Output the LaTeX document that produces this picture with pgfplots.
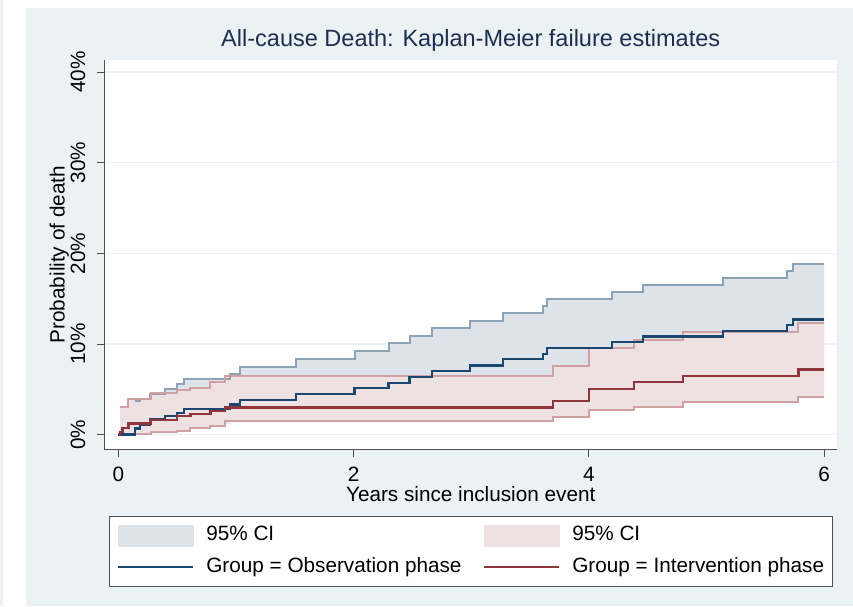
\documentclass[border=0pt]{standalone}
\usepackage{fontspec}
\setmainfont{Liberation Sans}
\usepackage{pgfplots}
\usepackage{pgfplotstable}
\pgfplotsset{compat=1.18}
\usepgfplotslibrary{fillbetween}
\definecolor{bgblue}{RGB}{234,242,243}
\definecolor{navyline}{RGB}{26,71,111}
\definecolor{maroonline}{RGB}{144,53,59}
\definecolor{navyfill}{RGB}{221,227,233}
\definecolor{maroonfill}{RGB}{238,225,226}
\definecolor{navyci}{RGB}{140,163,183}
\definecolor{maroonci}{RGB}{208,160,163}
\definecolor{titlecol}{RGB}{30,45,80}
\definecolor{axcol}{RGB}{80,80,80}

% Observation phase: KM failure estimate (%)
\pgfplotstableread{
t est
0.000 0.00
0.144 0.66
0.186 1.10
0.271 1.65
0.398 2.06
0.500 2.42
0.559 2.86
0.949 3.33
1.034 3.85
1.508 4.46
2.008 5.14
2.297 5.72
2.475 6.35
2.669 7.01
2.992 7.62
3.271 8.31
3.610 8.91
3.644 9.57
4.195 10.19
4.462 10.81
5.140 11.44
5.684 12.06
5.735 12.71
6.000 12.71
}\obsest
% Observation phase: 95% CI
\pgfplotstableread{
t u l
0.144 3.70 0.20
0.186 3.96 0.40
0.271 4.51 0.60
0.398 4.98 0.80
0.500 5.61 1.00
0.559 6.16 1.20
0.949 6.71 1.70
1.034 7.45 2.00
1.508 8.33 2.50
2.008 9.27 3.00
2.297 10.12 3.40
2.475 10.92 3.90
2.669 11.74 4.40
2.992 12.57 4.90
3.271 13.40 5.40
3.610 14.22 5.90
3.644 14.93 6.20
4.195 15.76 6.90
4.462 16.50 7.40
5.140 17.24 7.90
5.684 18.01 8.40
5.735 18.78 8.90
6.000 18.78 8.90
}\obsci
% Intervention phase: KM failure estimate (%)
\pgfplotstableread{
t est
0.000 0.00
0.014 0.30
0.034 0.74
0.085 1.21
0.274 1.62
0.500 2.06
0.613 2.31
0.782 2.61
0.909 3.00
3.695 3.71
4.000 5.06
4.381 5.80
4.801 6.46
5.782 7.17
6.000 7.17
}\intest
% Intervention phase: 95% CI
\pgfplotstableread{
t u l
0.014 3.05 0.00
0.085 3.96 0.05
0.274 4.59 0.25
0.500 4.90 0.45
0.613 5.17 0.70
0.782 5.80 1.00
0.909 6.42 1.45
3.695 7.62 1.95
4.000 9.54 2.68
4.381 10.48 3.05
4.801 11.30 3.60
5.782 12.30 4.15
6.000 12.30 4.15
}\intci

\begin{document}
\pagecolor{bgblue}
\begin{tikzpicture}
\path (0pt,0pt) rectangle (853pt,608pt);
\fill[white] (0pt,0pt) rectangle (23pt,608pt);
\fill[white] (0pt,600pt) rectangle (853pt,608pt);
\begin{axis}[
  at={(102pt,157pt)}, anchor=south west,
  width=735pt, height=391pt, scale only axis,
  xmin=-0.1186, xmax=6.110, ymin=-1.65, ymax=41.36,
  axis x line*=bottom, axis y line*=left,
  axis line style={-, draw=axcol, line width=0.9pt},
  axis background/.style={fill=white},
  xtick={0,2,4,6}, xticklabels={0,2,4,6},
  ytick={0,10,20,30,40}, yticklabels={0\%,10\%,20\%,30\%,40\%},
  tick align=outside, major tick length=7pt,
  tick style={draw=axcol, line width=0.9pt},
  ymajorgrids, major grid style={draw=bgblue, line width=1.5pt},
  ticklabel style={font=\fontsize{20.8}{25}\selectfont, text=black},
  xticklabel style={anchor=base},
  xticklabel shift=25pt,
  yticklabel style={rotate=90, anchor=base},
  yticklabel shift=12.5pt,
  label style={font=\fontsize{20.8}{25}\selectfont, text=black},
  xlabel={Years since inclusion event},
  xlabel style={at={(axis description cs:0.5,-0.1338)}, anchor=base},
  ylabel={Probability of death},
  ylabel style={at={(axis description cs:-0.0545,0.5)}, anchor=base},
  title={All-cause Death: Kaplan-Meier failure estimates},
  title style={at={(axis description cs:0.5,1.0187)}, anchor=base, font=\fontsize{23.6}{28}\selectfont, text=titlecol},
  legend columns=2,
  legend cell align=left,
  legend style={at={(axis description cs:0.5,-0.2609)}, anchor=center,
    draw=axcol, line width=0.8pt, fill=white,
    font=\fontsize{20.8}{25}\selectfont,
    inner xsep=8pt, inner ysep=8.75pt,
    column sep=0pt, row sep=10.5pt,
    nodes={inner sep=0pt, text height=15pt, text depth=5pt, anchor=west}},
]
\addlegendimage{legend image code/.code={\fill[navyfill] (0pt,-10.5pt) rectangle (75pt,10.5pt);}}
\addlegendentry{\hspace*{12pt}\makebox[278pt][l]{95\% CI}}
\addlegendimage{legend image code/.code={\fill[maroonfill] (0pt,-10.5pt) rectangle (75pt,10.5pt);}}
\addlegendentry{\hspace*{12pt}95\% CI}
\addlegendimage{legend image code/.code={\draw[navyline, line width=2.2pt] (0pt,0pt) -- (75pt,0pt);}}
\addlegendentry{\hspace*{12pt}\makebox[278pt][l]{Group = Observation phase}}
\addlegendimage{legend image code/.code={\draw[maroonline, line width=2.2pt] (0pt,0pt) -- (75pt,0pt);}}
\addlegendentry{\hspace*{12pt}Group = Intervention phase}

% observation CI band
\addplot[draw=none, const plot, name path=bu, forget plot] table[x=t,y=u]{\obsci};
\addplot[draw=none, const plot, name path=bl, forget plot] table[x=t,y=l]{\obsci};
\addplot[fill=navyfill, draw=none, forget plot] fill between[of=bu and bl];
\addplot[navyci, line width=2pt, const plot, forget plot] table[x=t,y=u]{\obsci};
% intervention CI band
\addplot[draw=none, const plot, name path=ru, forget plot] table[x=t,y=u]{\intci};
\addplot[draw=none, const plot, name path=rl, forget plot] table[x=t,y=l]{\intci};
\addplot[fill=maroonfill, draw=none, forget plot] fill between[of=ru and rl];
\addplot[maroonci, line width=2pt, const plot, forget plot] table[x=t,y=u]{\intci};
\addplot[maroonci, line width=2pt, const plot, forget plot] table[x=t,y=l]{\intci};
% estimates
\addplot[navyline, line width=2.3pt, const plot, forget plot] table[x=t,y=est]{\obsest};
\addplot[maroonline, line width=2.3pt, const plot, forget plot] table[x=t,y=est]{\intest};
\end{axis}
\pgfresetboundingbox
\path (0pt,0pt) rectangle (853pt,608pt);
\end{tikzpicture}
\end{document}
